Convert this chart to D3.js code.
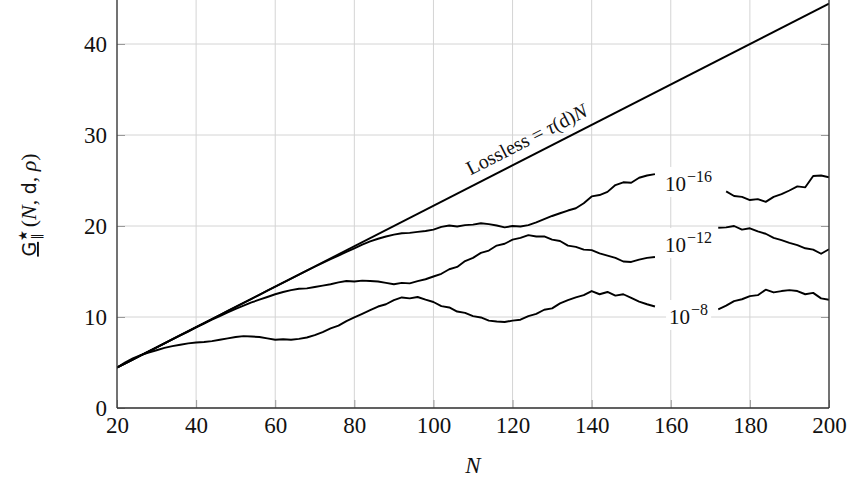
<!DOCTYPE html>
<html><head><meta charset="utf-8">
<script src="https://cdn.jsdelivr.net/npm/d3@7"></script>
<style>
html,body{margin:0;padding:0;background:#fff;}
svg{display:block;}
</style></head>
<body>
<svg id="chart" width="850" height="481"></svg>
<script>
const xTicks = [20,40,60,80,100,120,140,160,180,200];
const yTicks = [0,10,20,30,40];
const nGrid = d3.range(20, 201, 2);
const tau = 0.2222;
const losslessN = [20, 200];
const seriesNames = ["10^-16", "10^-12", "10^-8"];
const labelExp = ["\u221216", "\u221212", "\u22128"];
const labelN = 164.5;
const labelBaseV = [23.85, 17.14, 9.23];

const s16 = [4.44,4.89,5.33,5.78,6.22,6.67,7.11,7.56,8.0,8.44,
  8.89,9.33,9.78,10.22,10.67,11.11,11.56,12.0,12.44,12.89,
  13.33,13.78,14.22,14.66,15.1,15.52,15.94,16.35,16.75,17.15,
  17.55,17.95,18.3,18.6,18.85,19.05,19.2,19.25,19.35,19.45,
  19.6,19.9,20.05,19.95,20.1,20.15,20.3,20.2,20.05,19.85,
  20.0,19.95,20.1,20.4,20.75,21.1,21.4,21.7,21.95,22.5,
  23.25,23.4,23.75,24.5,24.8,24.75,25.3,25.55,25.7,null,
  null,null,null,null,null,null,
  null,23.8,23.3,23.2,22.85,22.95,22.65,23.2,23.5,23.9,
  24.35,24.25,25.5,25.55,25.35];
const s12 = [4.45,4.88,5.32,5.77,6.2,6.65,7.1,7.53,7.97,8.4,
  8.85,9.27,9.7,10.1,10.5,10.9,11.25,11.6,11.9,12.2,
  12.5,12.75,12.95,13.1,13.15,13.3,13.45,13.6,13.8,13.95,
  13.9,14.0,13.95,13.9,13.75,13.6,13.75,13.7,13.95,14.15,
  14.45,14.75,15.25,15.5,16.15,16.5,17.05,17.3,17.85,18.05,
  18.5,18.7,19.0,18.85,18.85,18.5,18.35,17.85,17.7,17.4,
  17.35,17.0,16.75,16.5,16.1,16.05,16.3,16.5,16.6,null,
  null,null,null,null,null,null,
  19.8,19.85,20.0,19.6,19.75,19.4,19.15,18.7,18.45,18.15,
  17.9,17.55,17.4,16.95,17.45];
const s8 = [4.45,5.0,5.45,5.8,6.1,6.35,6.6,6.8,6.95,7.1,
  7.2,7.25,7.35,7.5,7.65,7.8,7.9,7.85,7.8,7.65,
  7.5,7.55,7.5,7.6,7.75,8.0,8.35,8.75,9.05,9.55,
  9.95,10.35,10.75,11.15,11.4,11.85,12.15,12.05,12.2,11.9,
  11.65,11.2,11.05,10.6,10.45,10.1,9.95,9.6,9.5,9.45,
  9.6,9.7,10.1,10.35,10.8,10.95,11.5,11.85,12.15,12.4,
  12.85,12.5,12.75,12.35,12.5,12.1,11.7,11.4,11.15,null,
  null,null,null,null,null,null,
  10.85,11.25,11.75,11.95,12.3,12.4,13.0,12.7,12.85,12.95,
  12.85,12.5,12.65,12.05,11.9];
const allSeries = [s16, s12, s8];

const svg = d3.select("#chart");
const L = 117, R = 829, B = 408, T = -1.5;
const x = d3.scaleLinear().domain([20, 200]).range([L, R]);
const y = d3.scaleLinear().domain([0, 45]).range([B, T]);
const serif = "'Liberation Serif', 'DejaVu Serif', serif";

// grid
const grid = svg.append("g");
grid.selectAll("line.v").data(xTicks).join("line")
  .attr("x1", d => x(d)).attr("x2", d => x(d)).attr("y1", B).attr("y2", 0)
  .attr("stroke", "#d4d4d4").attr("stroke-width", 1);
grid.selectAll("line.h").data(yTicks).join("line")
  .attr("y1", d => y(d)).attr("y2", d => y(d)).attr("x1", L).attr("x2", R)
  .attr("stroke", "#d4d4d4").attr("stroke-width", 1);

// inner ticks
const tickCol = "#9a9a9a";
svg.append("g").attr("transform", `translate(0,${B})`)
  .call(d3.axisBottom(x).tickValues(xTicks).tickSize(-8).tickFormat(d3.format("d")).tickPadding(9))
  .call(g => g.select(".domain").remove())
  .call(g => g.selectAll(".tick line").attr("stroke", tickCol))
  .call(g => g.selectAll("text").attr("font-family", serif).attr("font-size", 23).attr("fill", "#111"));
svg.append("g").attr("transform", `translate(${L},0)`)
  .call(d3.axisLeft(y).tickValues(yTicks).tickSize(-8).tickPadding(10))
  .call(g => g.select(".domain").remove())
  .call(g => g.selectAll(".tick line").attr("stroke", tickCol))
  .call(g => g.selectAll("text").attr("font-family", serif).attr("font-size", 23).attr("fill", "#111"));
svg.append("g").attr("transform", `translate(${R},0)`)
  .call(d3.axisRight(y).tickValues(yTicks.slice(1)).tickSize(-8).tickFormat(""))
  .call(g => g.select(".domain").remove())
  .call(g => g.selectAll(".tick line").attr("stroke", tickCol));

// clip
svg.append("defs").append("clipPath").attr("id", "clip")
  .append("rect").attr("x", L).attr("y", 0).attr("width", R - L).attr("height", B);

const plot = svg.append("g").attr("clip-path", "url(#clip)");
const line = d3.line().defined(d => d[1] !== null).x(d => x(d[0])).y(d => y(d[1]));

plot.append("path")
  .datum(losslessN.map(n => [n, tau * n]))
  .attr("d", line).attr("fill", "none").attr("stroke", "#000").attr("stroke-width", 1.9);

allSeries.forEach(s => {
  plot.append("path")
    .datum(nGrid.map((n, i) => [n, s[i]]))
    .attr("d", line).attr("fill", "none").attr("stroke", "#000")
    .attr("stroke-width", 1.9).attr("stroke-linejoin", "round");
});

// labels with white boxes
seriesNames.forEach((nm, i) => {
  const g = svg.append("g");
  const t = g.append("text")
    .attr("x", x(labelN)).attr("y", y(labelBaseV[i]))
    .attr("text-anchor", "middle")
    .attr("font-family", serif).attr("font-size", 21).attr("fill", "#111");
  t.append("tspan").text("10");
  t.append("tspan").attr("font-size", 16).attr("dy", -9).attr("dx", 1).text(labelExp[i]);
  const bb = t.node().getBBox();
  g.insert("rect", "text").attr("x", bb.x - 3).attr("y", bb.y - 1)
    .attr("width", bb.width + 6).attr("height", bb.height + 2).attr("fill", "#fff");
});

// lossless label along line
const nL = 125.5;
const ang = Math.atan2(y(tau * 200) - y(tau * 20), x(200) - x(20)) * 180 / Math.PI;
const px = x(nL), py = y(tau * nL);
const off = 10;
const rad = ang * Math.PI / 180;
const lx = px + off * Math.sin(rad), ly = py - off * Math.cos(rad);
const lt = svg.append("text")
  .attr("transform", `translate(${lx},${ly}) rotate(${ang})`)
  .attr("text-anchor", "middle")
  .attr("font-family", serif).attr("font-size", 20).attr("fill", "#111");
lt.append("tspan").text("Lossless = ");
lt.append("tspan").attr("font-style", "italic").text("\u03C4");
lt.append("tspan").text("(d)");
lt.append("tspan").attr("font-style", "italic").text("N");

// axis lines
svg.append("line").attr("x1", L).attr("x2", L).attr("y1", 0).attr("y2", B).attr("stroke", "#333").attr("stroke-width", 1.3);
svg.append("line").attr("x1", R).attr("x2", R).attr("y1", 0).attr("y2", B).attr("stroke", "#333").attr("stroke-width", 1.3);
svg.append("line").attr("x1", L).attr("x2", R).attr("y1", B).attr("y2", B).attr("stroke", "#333").attr("stroke-width", 1.3);

// axis titles
svg.append("text").attr("x", (L + R) / 2).attr("y", 473)
  .attr("text-anchor", "middle").attr("font-family", serif)
  .attr("font-style", "italic").attr("font-size", 23).attr("fill", "#111").text("N");

const yl = svg.append("text")
  .attr("transform", `translate(36,205) rotate(-90)`)
  .attr("text-anchor", "middle").attr("font-family", serif)
  .attr("font-size", 22).attr("fill", "#111");
yl.append("tspan").attr("font-family", "'DejaVu Sans', sans-serif").attr("font-size", 19)
  .attr("text-decoration", "underline").text("G");
yl.append("tspan").attr("font-size", 12).attr("dy", -9).attr("dx", 1).text("\u2605");
yl.append("tspan").attr("font-family", "'DejaVu Sans', sans-serif").attr("font-size", 13)
  .attr("dy", 14).attr("dx", -10).text("\u2016");
yl.append("tspan").attr("dy", -5).attr("dx", 6).text("(");
yl.append("tspan").attr("font-style", "italic").text("N");
yl.append("tspan").text(", ");
yl.append("tspan").attr("font-family", "'DejaVu Sans', sans-serif").attr("font-size", 19).text("d");
yl.append("tspan").text(", ");
yl.append("tspan").attr("font-style", "italic").text("\u03C1");
yl.append("tspan").text(")");
</script>
</body></html>
